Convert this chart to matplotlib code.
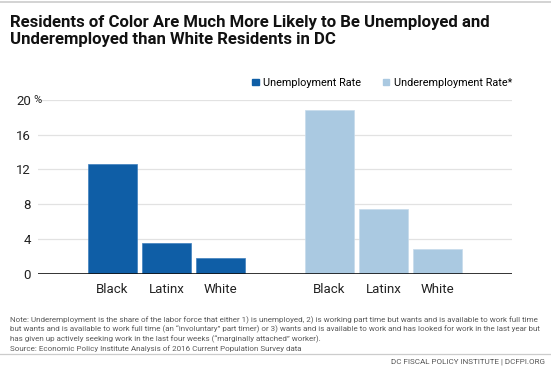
import numpy as np
import matplotlib
matplotlib.use("Agg")
import matplotlib.pyplot as plt
from matplotlib.lines import Line2D

plt.rcParams['font.family'] = ['Roboto', 'DejaVu Sans']

# data
categories = ["Black", "Latinx", "White"]
unemployment = [12.6, 3.5, 1.8]
underemployment = [18.8, 7.5, 2.9]
yticks = [0, 4, 8, 12, 16, 20]
ytick_labels = ["0", "4", "8", "12", "16", "20"]

title = ("Residents of Color Are Much More Likely to Be Unemployed and\n"
         "Underemployed than White Residents in DC")
note = ("Note: Underemployment is the share of the labor force that either 1) is unemployed, 2) is working part time but wants and is available to work full time\n"
        "but wants and is available to work full time (an \u201cinvoluntary\u201d part timer) or 3) wants and is available to work and has looked for work in the last year but\n"
        "has given up actively seeking work in the last four weeks (\u201cmarginally attached\u201d worker).\n"
        "Source: Economic Policy Institute Analysis of 2016 Current Population Survey data")
footer = "DC FISCAL POLICY INSTITUTE | DCFPI.ORG"

dark = "#0f5ea6"
light = "#aac9e1"

fig = plt.figure(figsize=(5.51, 3.70), dpi=100)
ax = fig.add_axes([38 / 551, 1 - 273.7 / 370, 474 / 551, 173.7 / 370])

n = len(categories)
x1 = np.arange(n)
x2 = np.arange(n) + n + 1
w = 0.9
ax.bar(x1, unemployment, width=w, color=dark, edgecolor="#3f7fbd", linewidth=0.5, zorder=3)
ax.bar(x2, underemployment, width=w, color=light, edgecolor="#c6dbec", linewidth=0.5, zorder=3)

ax.set_xlim(-1.37, x2[-1] + 1.37)
ax.set_ylim(0, 20)
ax.set_xticks(list(x1) + list(x2))
ax.set_xticklabels(categories + categories, fontsize=9.5, color="#222222")
ax.set_yticks(yticks)
ax.set_yticklabels(ytick_labels, fontsize=9.5, color="#222222")
ax.tick_params(axis="both", length=0)
ax.tick_params(axis="x", pad=7)
ax.tick_params(axis="y", pad=5)
ax.text(-0.009, 20, "%", transform=ax.get_yaxis_transform(), fontsize=8,
        va="center", ha="left", color="#222222")
for s in ax.spines.values():
    s.set_visible(False)
ax.grid(axis="y", color="#e2e2e2", linewidth=0.9, zorder=0)
ax.axhline(0, color="#111111", linewidth=1.2, zorder=4)

handles = [plt.Rectangle((0, 0), 1, 1, color=dark), plt.Rectangle((0, 0), 1, 1, color=light)]
ax.legend(handles, ["Unemployment Rate", "Underemployment Rate*"], ncol=2,
          loc="lower right", bbox_to_anchor=(1.0, 1.07), frameon=False,
          fontsize=7.8, handlelength=0.6, handleheight=0.6, handletextpad=0.4,
          columnspacing=2.0, borderaxespad=0, borderpad=0)

fig.text(10 / 551, 1 - 15 / 370, title, fontsize=12.1, fontweight="bold",
         va="top", ha="left", linespacing=1.2, color="#111111")
fig.text(10 / 551, 1 - 316 / 370, note, fontsize=5.75, va="top", ha="left",
         linespacing=1.35, color="#5a5a5a")
fig.text(545 / 551, 1 - 362 / 370, footer, fontsize=5.8, va="center", ha="right",
         color="#555555")
fig.add_artist(Line2D([0, 1], [1 - 1.5 / 370, 1 - 1.5 / 370], color="#cccccc", linewidth=1.2))
fig.add_artist(Line2D([0, 1], [1 - 354 / 370, 1 - 354 / 370], color="#cccccc", linewidth=0.9))

fig.savefig("out.png", dpi=100)
